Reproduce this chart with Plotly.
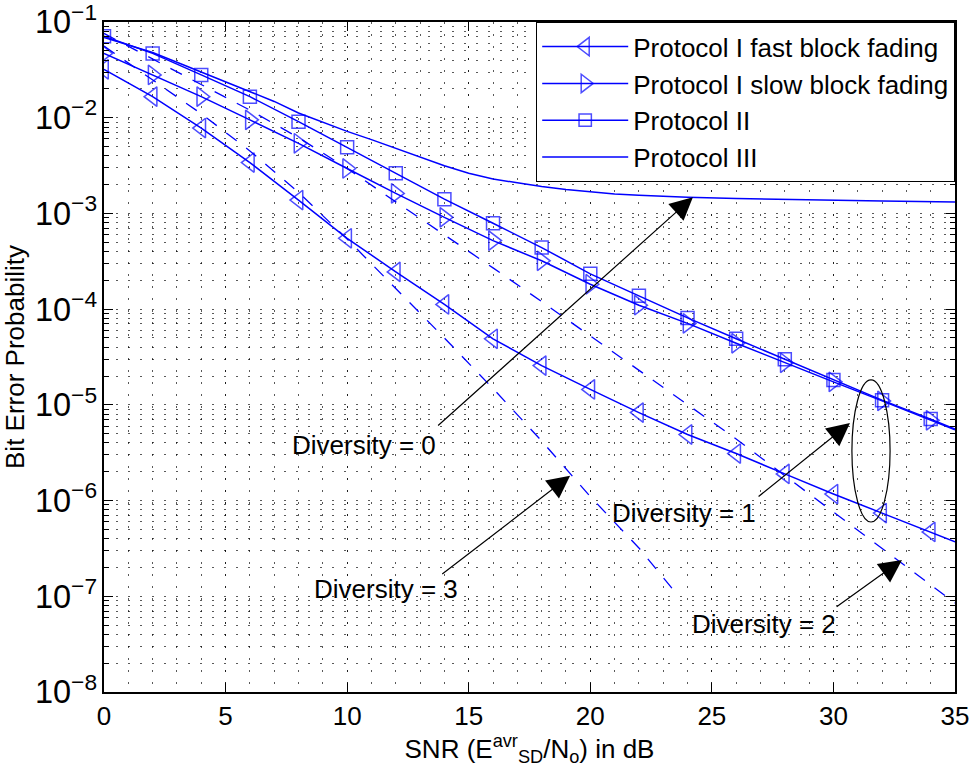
import plotly.graph_objects as go

# ---------------- data ----------------
snr_marked = [0, 2, 4, 6, 8, 10, 12, 14, 16, 18, 20, 22, 24, 26, 28, 30, 32, 34, 35]

ber_fast = [3.2e-2, 1.66e-2, 7.8e-3, 3.4e-3, 1.38e-3, 5.5e-4, 2.45e-4, 1.12e-4, 4.9e-5,
            2.57e-5, 1.45e-5, 8.3e-6, 4.9e-6, 3.1e-6, 1.9e-6, 1.17e-6, 7.4e-7, 4.7e-7, 3.7e-7]
ber_slow = [4.7e-2, 2.8e-2, 1.66e-2, 9.5e-3, 5.4e-3, 2.95e-3, 1.62e-3, 9.1e-4, 5.2e-4,
            3.2e-4, 1.82e-4, 1.1e-4, 7.1e-5, 4.4e-5, 2.75e-5, 1.74e-5, 1.1e-5, 6.9e-6, 5.5e-6]
ber_p2 = [7.1e-2, 4.7e-2, 2.8e-2, 1.66e-2, 9.1e-3, 4.9e-3, 2.63e-3, 1.41e-3, 7.9e-4,
          4.4e-4, 2.34e-4, 1.38e-4, 8.1e-5, 4.9e-5, 3.0e-5, 1.82e-5, 1.12e-5, 7.1e-6, 5.6e-6]

snr_p3 = [0, 1, 2, 3, 4, 5, 6, 7, 8, 9, 10, 11, 12, 13, 14, 15, 16, 17, 18, 19, 20,
          21, 22, 23, 24, 26, 28, 30, 32, 35]
ber_p3 = [6.9e-2, 5.75e-2, 4.8e-2, 3.8e-2, 3.0e-2, 2.4e-2, 1.9e-2, 1.48e-2, 1.12e-2, 8.9e-3,
          7.2e-3, 5.9e-3, 4.8e-3, 3.9e-3, 3.15e-3, 2.63e-3, 2.29e-3, 2.09e-3, 1.91e-3, 1.78e-3,
          1.68e-3, 1.60e-3, 1.55e-3, 1.51e-3, 1.48e-3, 1.43e-3, 1.40e-3, 1.36e-3, 1.35e-3, 1.32e-3]

snr_div2 = [0, 2, 4, 6, 8, 10, 12, 14, 16, 18, 20, 22, 24, 26, 28, 30, 32, 34, 35]
ber_div2 = [7.6e-2, 4.1e-2, 2.24e-2, 1.2e-2, 6.2e-3, 2.95e-3, 1.32e-3, 6.0e-4, 2.7e-4, 1.2e-4,
            5.25e-5, 2.34e-5, 1.02e-5, 4.4e-6, 1.82e-6, 7.6e-7, 3.2e-7, 1.32e-7, 8.5e-8]

snr_div3 = [0, 2, 4, 6, 8, 10, 12, 14, 16, 18, 20, 22, 23.6]
ber_div3 = [5.6e-2, 2.5e-2, 1.1e-2, 4.5e-3, 1.66e-3, 5.4e-4, 1.66e-4, 5.0e-5, 1.48e-5, 4.2e-6,
            1.1e-6, 3.2e-7, 1.02e-7]

x_ticks = [0, 5, 10, 15, 20, 25, 30, 35]

# annotation labels and arrow anchors (x in dB, y as log10 of BER)
div_labels = ["Diversity = 0", "Diversity = 1", "Diversity = 2", "Diversity = 3"]
label_pos = [(10.69, -5.42), (23.85, -6.13), (27.15, -7.29), (11.6, -6.92)]
arrow_tip = [(24.22, -2.83), (30.68, -5.19), (32.82, -6.62), (19.17, -5.74)]
arrow_tail = [(13.68, -5.23), (26.86, -5.97), (30.07, -7.12), (13.85, -6.78)]

# ellipse around the diversity-1 curves (x range in dB, y range in BER)
ellipse_x = (30.76, 32.33)
ellipse_y = (5.97e-7, 1.82e-5)

# ---------------- styling ----------------
BLUE = "#0000ff"
FONT = "Liberation Sans, Arial, Helvetica, sans-serif"
FS = 26
GRID = "rgba(0,0,0,0.65)"
DOTS = "1.5px,10.5px"

def sizes(n, s):
    return [s] * (n - 1) + [0]

fig = go.Figure()

fig.add_trace(go.Scatter(x=snr_div2, y=ber_div2, mode="lines", showlegend=False,
                         line=dict(color=BLUE, width=1.3, dash="13px,12px"), hoverinfo="skip"))
fig.add_trace(go.Scatter(x=snr_div3, y=ber_div3, mode="lines", showlegend=False,
                         line=dict(color=BLUE, width=1.3, dash="13px,12px"), hoverinfo="skip"))

fig.add_trace(go.Scatter(
    x=snr_marked, y=ber_fast, mode="lines+markers", name="Protocol I fast block fading",
    line=dict(color=BLUE, width=1.5),
    marker=dict(symbol="triangle-left-open", size=sizes(len(snr_marked), 17), color=BLUE,
                line=dict(color=BLUE, width=1.5))))
fig.add_trace(go.Scatter(
    x=snr_marked, y=ber_slow, mode="lines+markers", name="Protocol I slow block fading",
    line=dict(color=BLUE, width=1.5),
    marker=dict(symbol="triangle-right-open", size=sizes(len(snr_marked), 17), color=BLUE,
                line=dict(color=BLUE, width=1.5))))
fig.add_trace(go.Scatter(
    x=snr_marked, y=ber_p2, mode="lines+markers", name="Protocol II",
    line=dict(color=BLUE, width=1.5),
    marker=dict(symbol="square-open", size=sizes(len(snr_marked), 13), color=BLUE,
                line=dict(color=BLUE, width=1.5))))
fig.add_trace(go.Scatter(
    x=snr_p3, y=ber_p3, mode="lines", name="Protocol III",
    line=dict(color=BLUE, width=1.5)))

annotations = []
for (tx, ty), (ax_, ay_) in zip(arrow_tip, arrow_tail):
    annotations.append(dict(x=tx, y=ty, ax=ax_, ay=ay_, xref="x", yref="y", axref="x", ayref="y",
                            text="", showarrow=True, arrowhead=2, arrowsize=3.8, arrowwidth=1.2,
                            arrowcolor="black", standoff=0, startstandoff=0))
for txt, (lx, ly) in zip(div_labels, label_pos):
    annotations.append(dict(x=lx, y=ly, xref="x", yref="y", text=txt, showarrow=False,
                            font=dict(family=FONT, size=FS, color="black"),
                            xanchor="center", yanchor="middle"))

axis_common = dict(
    showline=True, linecolor="black", linewidth=1.5, mirror="allticks",
    ticks="inside", tickcolor="black", ticklen=9, tickwidth=1,
    showgrid=True, gridcolor=GRID, gridwidth=1, griddash=DOTS, zeroline=False,
    tickfont=dict(family=FONT, size=FS, color="black"), ticklabeloverflow="allow",
    automargin=False,
)

fig.update_layout(
    width=973, height=781,
    margin=dict(l=104, r=18, t=22, b=89),
    paper_bgcolor="white", plot_bgcolor="white",
    font=dict(family=FONT, size=FS, color="black"),
    showlegend=True,
    legend=dict(x=1.0, y=1, xanchor="right", yanchor="top", bgcolor="white",
                bordercolor="black", borderwidth=1.2, font=dict(family=FONT, size=FS, color="black"),
                itemwidth=86, tracegroupgap=0, entrywidth=318, entrywidthmode="pixels"),
    annotations=annotations,
    shapes=[dict(type="circle", xref="x", yref="y", x0=ellipse_x[0], x1=ellipse_x[1],
                 y0=ellipse_y[0], y1=ellipse_y[1], line=dict(color="black", width=1.2))],
    xaxis=dict(range=[0, 35], tickvals=x_ticks,
               title=dict(text="SNR (E<sup>avr</sup><sub>SD</sub>/N<sub>o</sub>) in dB",
                          font=dict(family=FONT, size=FS), standoff=8),
               minor=dict(dtick=1, showgrid=True, gridcolor=GRID, griddash=DOTS, gridwidth=1,
                          ticks=""),
               **axis_common),
    yaxis=dict(type="log", range=[-8.0001, -0.9999], dtick=1, exponentformat="power",
               title=dict(text="Bit Error Probability", font=dict(family=FONT, size=FS), standoff=3),
               minor=dict(dtick="D1", showgrid=True, gridcolor=GRID, griddash=DOTS, gridwidth=1,
                          ticks="inside", ticklen=5, tickcolor="black"),
               **axis_common),
)

fig.write_html("out.html")
